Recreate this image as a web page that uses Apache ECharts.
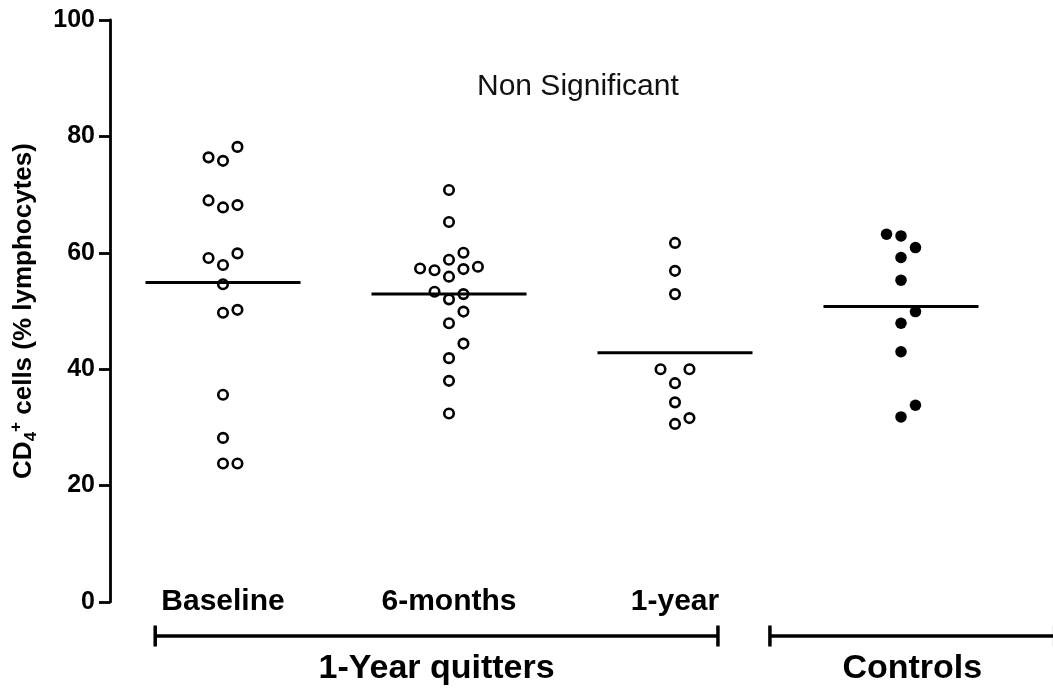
<!DOCTYPE html>
<html>
<head>
<meta charset="utf-8">
<script src="https://cdn.jsdelivr.net/npm/echarts@6/dist/echarts.min.js"></script>
<style>
  html, body { margin: 0; padding: 0; background: #fff; }
  #chart { width: 1053px; height: 693px; }
</style>
</head>
<body>
<div id="chart"></div>
<script>
// CD4+ cells (% of lymphocytes) per subject
const categories = ['Baseline', '6-months', '1-year', 'Controls'];
const baseline  = [75.8, 78.2, 76.4, 67.8, 68.2, 69.0, 57.9, 59.9, 59.1, 54.6, 49.7, 50.2, 35.6, 28.2, 23.8, 23.8];
const sixMonths = [70.8, 65.3, 58.8, 60.0, 57.2, 57.0, 57.6, 57.3, 55.9, 52.0, 52.9, 53.3, 49.9, 47.9, 41.9, 44.4, 38.0, 32.4];
const oneYear   = [61.7, 56.9, 52.9, 37.6, 40.0, 40.0, 34.3, 30.6, 31.6];
const controls  = [62.9, 60.9, 63.2, 59.2, 55.3, 47.9, 49.9, 43.0, 31.8, 33.8];
const yTicks = [0, 20, 40, 60, 80, 100];
const groupNames = ['1-Year quitters', 'Controls'];
const noteText = 'Non Significant';

const groupsData = [baseline, sixMonths, oneYear, controls];
const filled = [false, false, false, true];

// bracket extents under each group, in x-axis units
const bracketSpans = [[-0.30, 2.19], [2.42, 3.68]];

const FONT = '"Liberation Sans", Arial, sans-serif';
const LANE = 0.064;      // horizontal step between side-by-side points
const HALF_BAR = 0.343;  // half width of the mean bar

// Column scatter spreading: place each point in the first free lane
function lanesFor(values, gap) {
  const order = [0, 1, -1, 2, -2, 3, -3];
  const placed = [];
  return values.map(v => {
    const lane = order.find(l => !placed.some(p => p.lane === l && Math.abs(p.v - v) < gap));
    placed.push({ v, lane });
    return lane;
  });
}

const mean = arr => arr.reduce((s, v) => s + v, 0) / arr.length;

const scatterSeries = groupsData.map((vals, i) => {
  const lanes = lanesFor(vals, 2.6);
  return {
    type: 'scatter',
    name: categories[i],
    xAxisIndex: 0,
    yAxisIndex: 0,
    symbol: 'circle',
    symbolSize: filled[i] ? 11.5 : 9.5,
    itemStyle: filled[i]
      ? { color: '#000', opacity: 1 }
      : { color: '#fff', borderColor: '#000', borderWidth: 2.6, opacity: 1 },
    data: vals.map((v, k) => [i + lanes[k] * LANE, v]),
    z: 3
  };
});

const meanSeries = {
  type: 'custom',
  xAxisIndex: 0,
  yAxisIndex: 0,
  data: groupsData.map((vals, i) => [i, mean(vals)]),
  renderItem: (params, api) => {
    const x = api.value(0), y = api.value(1);
    const a = api.coord([x - HALF_BAR, y]);
    const b = api.coord([x + HALF_BAR, y]);
    return {
      type: 'line',
      shape: { x1: a[0], y1: a[1], x2: b[0], y2: b[1] },
      style: { stroke: '#000', lineWidth: 3 }
    };
  },
  z: 4,
  silent: true
};

const bracketSeries = {
  type: 'custom',
  xAxisIndex: 0,
  yAxisIndex: 0,
  clip: false,
  data: bracketSpans.map((s, i) => [s[0], s[1], i]),
  renderItem: (params, api) => {
    const p0 = api.coord([api.value(0), 0]);
    const p1 = api.coord([api.value(1), 0]);
    const base = p0[1];
    const yLine = base + 34;
    const cap = 10.5;
    const name = groupNames[api.value(2)];
    return {
      type: 'group',
      children: [
        { type: 'line', shape: { x1: p0[0], y1: yLine, x2: p1[0], y2: yLine },
          style: { stroke: '#000', lineWidth: 3.5 } },
        { type: 'line', shape: { x1: p0[0], y1: yLine - cap, x2: p0[0], y2: yLine + cap },
          style: { stroke: '#000', lineWidth: 3.5 } },
        { type: 'line', shape: { x1: p1[0], y1: yLine - cap, x2: p1[0], y2: yLine + cap },
          style: { stroke: '#000', lineWidth: 3.5 } },
        { type: 'text',
          style: { x: (p0[0] + p1[0]) / 2, y: base + 67, text: name,
                   align: 'center', verticalAlign: 'middle',
                   font: 'bold 34px ' + FONT, fill: '#000' } }
      ]
    };
  },
  silent: true
};

const chart = echarts.init(document.getElementById('chart'), null, { renderer: 'canvas' });
chart.setOption({
  animation: false,
  backgroundColor: '#fff',
  title: {
    text: noteText,
    left: 472,
    top: 67,
    textStyle: { fontFamily: FONT, fontSize: 30, fontWeight: 'normal', color: '#111' }
  },
  grid: { left: 110, right: 39, top: 20, bottom: 91, containLabel: false },
  xAxis: [
    { type: 'value', min: -0.5, max: 3.5, show: false },
    {
      type: 'category',
      data: categories.slice(0, 3).concat(['']),
      position: 'bottom',
      axisLine: { show: false },
      axisTick: { show: false },
      splitLine: { show: false },
      axisLabel: {
        margin: 0,
        verticalAlign: 'middle',
        fontFamily: FONT, fontSize: 30, fontWeight: 'bold', color: '#000'
      }
    }
  ],
  yAxis: {
    type: 'value',
    min: yTicks[0],
    max: yTicks[yTicks.length - 1],
    interval: yTicks[1] - yTicks[0],
    axisLine: { show: true, onZero: false, lineStyle: { color: '#000', width: 2.8 } },
    axisTick: { show: true, length: 11, lineStyle: { color: '#000', width: 2.8 } },
    splitLine: { show: false },
    axisLabel: { margin: 15, fontFamily: FONT, fontSize: 25, fontWeight: 'bold', color: '#000' },
    name: '{m|CD}{sub|4}{sup|+}{m| cells (% lymphocytes)}',
    nameLocation: 'middle',
    nameRotate: 90,
    nameGap: 70,
    nameTextStyle: {
      rich: {
        m:   { fontFamily: FONT, fontSize: 26, fontWeight: 'bold', color: '#000', lineHeight: 32, verticalAlign: 'middle' },
        sub: { fontFamily: FONT, fontSize: 17, fontWeight: 'bold', color: '#000', lineHeight: 32, verticalAlign: 'bottom' },
        sup: { fontFamily: FONT, fontSize: 17, fontWeight: 'bold', color: '#000', lineHeight: 32, verticalAlign: 'top' }
      }
    }
  },
  series: [...scatterSeries, meanSeries, bracketSeries]
});
</script>
</body>
</html>
